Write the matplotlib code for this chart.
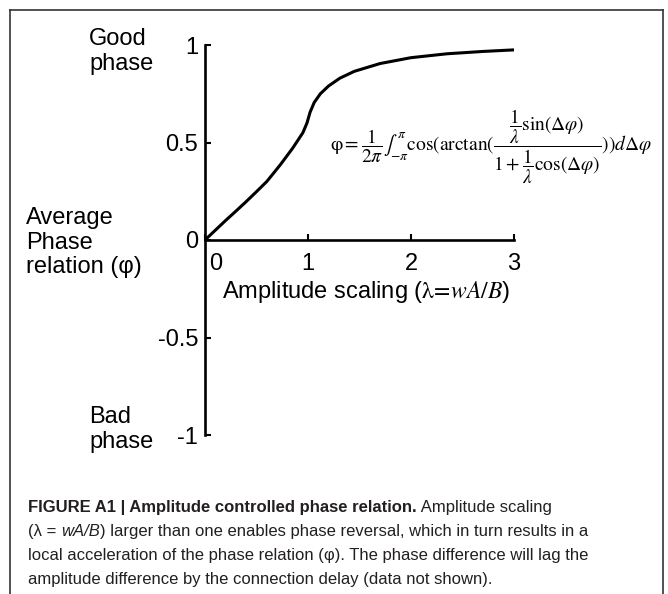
import matplotlib.pyplot as plt
from matplotlib.lines import Line2D
from matplotlib.transforms import ScaledTranslation

plt.rcParams['font.family'] = ['Liberation Sans', 'DejaVu Sans']
plt.rcParams['mathtext.fontset'] = 'stix'

# values
lam = [0.0, 0.1, 0.2, 0.3, 0.4, 0.5, 0.6, 0.73, 0.85, 0.95, 0.99, 1.02, 1.06,
       1.12, 1.2, 1.31, 1.45, 1.7, 2.0, 2.35, 2.7, 3.0]
phi = [0.0, 0.05, 0.10, 0.148, 0.197, 0.248, 0.30, 0.385, 0.47, 0.55, 0.60, 0.655,
       0.705, 0.75, 0.79, 0.83, 0.865, 0.905, 0.935, 0.955, 0.967, 0.975]
xticks = [0, 1, 2, 3]
yticks = [-1, -0.5, 0, 0.5, 1]
ytick_labels = ['-1', '-0.5', '0', '0.5', '1']

W, H = 668, 594
fig = plt.figure(figsize=(W / 100, H / 100), dpi=100)
ax = fig.add_axes([205 / W, (H - 435) / H, 309 / W, 390 / H])
ax.set_xlim(0, 3)
ax.set_ylim(-1, 1)
ax.patch.set_alpha(0)

ax.plot(lam, phi, color='black', lw=2.2, solid_capstyle='round', solid_joinstyle='round')

for s in ['top', 'right']:
    ax.spines[s].set_visible(False)
ax.spines['bottom'].set_position(('data', 0))
ax.spines['left'].set_linewidth(1.9)
ax.spines['bottom'].set_linewidth(1.9)

ax.set_xticks(xticks)
ax.set_xticklabels([str(t) for t in xticks])
ax.set_yticks(yticks)
ax.set_yticklabels(ytick_labels)
ax.tick_params(axis='both', direction='in', length=4, width=1.5, labelsize=17)
ax.tick_params(axis='y', pad=5)
ax.tick_params(axis='x', pad=9)
lab0 = ax.xaxis.get_major_ticks()[0].label1
lab0.set_transform(lab0.get_transform() + ScaledTranslation(8 / 72, 0, fig.dpi_scale_trans))

# side labels
fig.text(89 / W, 1 - 28 / H, 'Good\nphase', fontsize=17, va='top', ha='left', linespacing=1.15)
fig.text(26 / W, 1 - 207 / H, 'Average\nPhase\nrelation (φ)', fontsize=17,
         va='top', ha='left', linespacing=1.15)
fig.text(89 / W, 1 - 406 / H, 'Bad\nphase', fontsize=17, va='top', ha='left', linespacing=1.15)
fig.text(222 / W, 1 - 292 / H, 'Amplitude scaling ($\\mathrm{\\lambda}\\!=\\!wA/B$)', fontsize=17,
         va='center', ha='left')

eq = (r'$\mathrm{\varphi} = \dfrac{1}{2\pi}\int_{-\pi}^{\pi}\cos(\arctan(\dfrac{\dfrac{1}{\lambda}\sin(\Delta\varphi)}'
      r'{1+\dfrac{1}{\lambda}\cos(\Delta\varphi)}))d\Delta\varphi$')
fig.text(330 / W, 1 - 147 / H, eq, fontsize=14, va='center', ha='left')

# frame lines
fc = '#333333'
fig.add_artist(Line2D([10 / W, 663 / W], [1 - 10 / H, 1 - 10 / H], color=fc, lw=1.2))
fig.add_artist(Line2D([10 / W, 10 / W], [0, 1 - 10 / H], color=fc, lw=1.2))
fig.add_artist(Line2D([663 / W, 663 / W], [0, 1 - 10 / H], color=fc, lw=1.2))

# caption
cap_font = ['Liberation Sans Narrow', 'Liberation Sans', 'DejaVu Sans']
cs = 12
cc = '#231f20'
fig.canvas.draw()
r = fig.canvas.get_renderer()


def line_parts(y, parts):
    x = 28
    for txt, kw in parts:
        t = fig.text(x / W, 1 - y / H, txt, fontsize=cs, family=cap_font,
                     va='baseline', color=cc, **kw)
        x = t.get_window_extent(r).x1


line_parts(512, [('FIGURE A1 | Amplitude controlled phase relation.', {'fontweight': 'bold'}),
                 (' Amplitude scaling', {})])
line_parts(536, [('(λ = ', {}), ('wA/B', {'style': 'italic'}),
                 (') larger than one enables phase reversal, which in turn results in a', {})])
line_parts(560, [('local acceleration of the phase relation (φ). The phase difference will lag the', {})])
line_parts(584, [('amplitude difference by the connection delay (data not shown).', {})])

fig.savefig('out.png', dpi=100)
